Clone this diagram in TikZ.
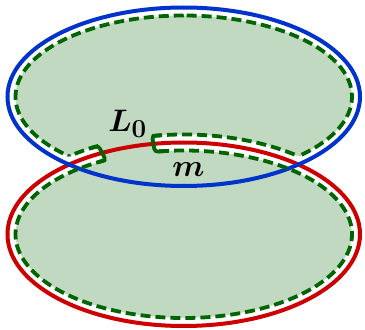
\documentclass[tikz,border=0pt]{standalone}
\usetikzlibrary{calc}
\definecolor{bluel}{RGB}{0,51,204}
\definecolor{redl}{RGB}{204,0,0}
\definecolor{dgreen}{RGB}{0,100,0}
\definecolor{fillg}{RGB}{192,217,192}
\tikzset{
  solidline/.style={line width=4pt},
  dashline/.style={dgreen, line width=3.8pt, dash pattern=on 10pt off 5pt},
  capline/.style={dgreen, line width=3.8pt, rounded corners=3pt},
  lab/.style={anchor=base west, inner sep=0pt, scale=1.25, font=\fontsize{24.88}{30}\selectfont\boldmath}
}
\begin{document}
\begin{tikzpicture}[x=1pt,y=1pt]
\useasboundingbox (0,0) rectangle (365,330);
\coordinate (B) at (183.75,233.25);
\coordinate (R) at (183.75,95.75);
\def\ta{99.9}
\def\tb{117.6}
% green fills
\fill[fillg] (B) ellipse [x radius=168.25pt, y radius=81.25pt];
\fill[fillg] (R) ellipse [x radius=168.25pt, y radius=83.75pt];
% white tube around red arc
\fill[white] ($(R)+(\tb:184.25pt and 99.75pt)$)
  arc[start angle=\tb, end angle=\ta+360, x radius=184.25pt, y radius=99.75pt]
  -- ($(R)+(\ta:168.25pt and 83.75pt)$)
  arc[start angle=\ta+360, end angle=\tb, x radius=168.25pt, y radius=83.75pt]
  -- cycle;
% solid ellipses
\draw[solidline, redl] (R) ellipse [x radius=176.25pt, y radius=91.75pt];
\draw[solidline, bluel] (B) ellipse [x radius=176.25pt, y radius=89.25pt];
% dashed inner red
\draw[dashline] ($(R)+(\tb:168.25pt and 83.75pt)$)
  arc[start angle=\tb, end angle=\ta+360, x radius=168.25pt, y radius=83.75pt];
% dashed outer red pieces inside inner blue
\begin{scope}
\clip (B) ellipse [x radius=168.25pt, y radius=81.25pt];
\draw[dashline] ($(R)+(\ta:184.25pt and 99.75pt)$)
  arc[start angle=\ta, end angle=10, x radius=184.25pt, y radius=99.75pt];
\draw[dashline] ($(R)+(\tb:184.25pt and 99.75pt)$)
  arc[start angle=\tb, end angle=170, x radius=184.25pt, y radius=99.75pt];
\end{scope}
% dashed inner blue outside outer red
\begin{scope}[even odd rule]
\clip (-10,-10) -- (-10,340) -- (375,340) -- (375,-10) -- cycle
  (R) ellipse [x radius=184.25pt, y radius=99.75pt];
\draw[dashline] ($(B)+(90:168.25pt and 81.25pt)$)
  arc[start angle=90, end angle=450, x radius=168.25pt, y radius=81.25pt];
\end{scope}
% caps
\draw[capline] ($(R)+(\ta-3:184.25pt and 99.75pt)$) -- ($(R)+(\ta:184.25pt and 99.75pt)$)
  -- ($(R)+(\ta:168.25pt and 83.75pt)$) -- ($(R)+(\ta-3:168.25pt and 83.75pt)$);
\draw[capline] ($(R)+(\tb+3:184.25pt and 99.75pt)$) -- ($(R)+(\tb:184.25pt and 99.75pt)$)
  -- ($(R)+(\tb:168.25pt and 83.75pt)$) -- ($(R)+(\tb+3:168.25pt and 83.75pt)$);
% labels
\node[lab] (L) at (108,198) {$L_0$};
\node[lab] (m) at (172,153) {$m$};
\end{tikzpicture}
\end{document}
